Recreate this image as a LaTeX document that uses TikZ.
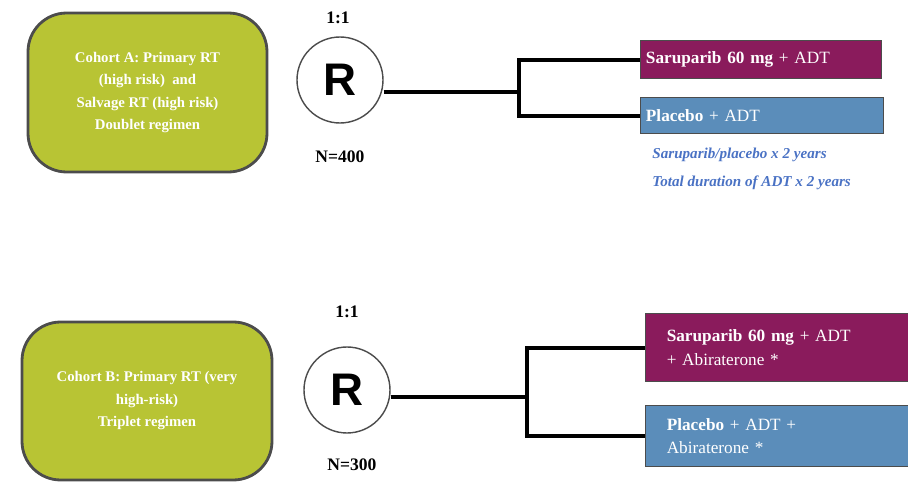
\documentclass[tikz,border=0pt]{standalone}
\usepackage{fontspec}
\setmainfont{Liberation Serif}
\newfontfamily\rfont{Liberation Sans}
\definecolor{cohortgreen}{HTML}{B8C434}
\definecolor{armpurple}{HTML}{8A1B5C}
\definecolor{armblue}{HTML}{5B8DBA}
\definecolor{notetext}{HTML}{4A72C4}
\tikzset{
  cohort/.style={draw=black!70, fill=cohortgreen, rounded corners=11pt, text=white,
    font=\fontsize{4.2}{6.4}\selectfont\bfseries, align=center, thick},
  rand/.style={circle, draw=black!70, fill=white, minimum size=0.86cm,
    font=\fontsize{13}{13}\selectfont\rfont\bfseries},
  arm/.style={draw=black!70, text=white, anchor=north west, align=left,
    font=\fontsize{4.9}{6.6}\selectfont, inner xsep=1.5pt, inner ysep=1.5pt},
  lbl/.style={font=\fontsize{5}{6}\selectfont\bfseries},
  note/.style={text=notetext, anchor=west, font=\fontsize{4.3}{5}\selectfont\itshape\bfseries},
  link/.style={line width=1.2pt}
}
\begin{document}
\begin{tikzpicture}
\useasboundingbox (0,0) rectangle (9.08,4.96);
% cohort A
\node[cohort, minimum width=2.39cm, minimum height=1.59cm] (cohA) at (1.475,4.035)
  {Cohort A: Primary RT\\(high risk)\ \ and\\Salvage RT (high risk)\\Doublet regimen};
\node[rand] (rA) at (3.40,4.16) {R};
\node[lbl] (ratioA) at (3.38,4.78) {1:1};
\node[lbl] (nA) at (3.40,3.39) {N=400};
\node[arm, fill=armpurple, text width=2.30cm, minimum height=0.38cm] (armA1) at (6.40,4.56)
  {\textbf{Saruparib 60 mg} + ADT};
\node[arm, fill=armblue, text width=2.32cm, minimum height=0.36cm] (armA2) at (6.40,3.99)
  {\textbf{Placebo} + ADT};
\node[note] (noteA1) at (6.40,3.41) {Saruparib/placebo x 2 years};
\node[note] (noteA2) at (6.40,3.13) {Total duration of ADT x 2 years};
\coordinate (forkA) at (5.19,4.04);
\draw[link] (rA.east |- forkA) -- (forkA);
\draw[link] (armA1.west) -| (forkA) |- (armA2.west);
% cohort B
\node[cohort, minimum width=2.50cm, minimum height=1.58cm] (cohB) at (1.47,0.95)
  {Cohort B: Primary RT (very\\high-risk)\\Triplet regimen};
\node[rand] (rB) at (3.47,1.06) {R};
\node[lbl] (ratioB) at (3.47,1.84) {1:1};
\node[lbl] (nB) at (3.52,0.31) {N=300};
\node[arm, fill=armpurple, text width=2.30cm, inner xsep=6pt, minimum height=0.68cm] (armB1) at (6.45,1.83)
  {\textbf{Saruparib 60 mg} + ADT\\+ Abiraterone *};
\node[arm, fill=armblue, text width=2.30cm, inner xsep=6pt, minimum height=0.61cm] (armB2) at (6.45,0.91)
  {\textbf{Placebo} + ADT +\\Abiraterone *};
\coordinate (forkB) at (5.27,0.99);
\draw[link] (rB.east |- forkB) -- (forkB);
\draw[link] (armB1.west) -| (forkB) |- (armB2.west);
\end{tikzpicture}
\end{document}
